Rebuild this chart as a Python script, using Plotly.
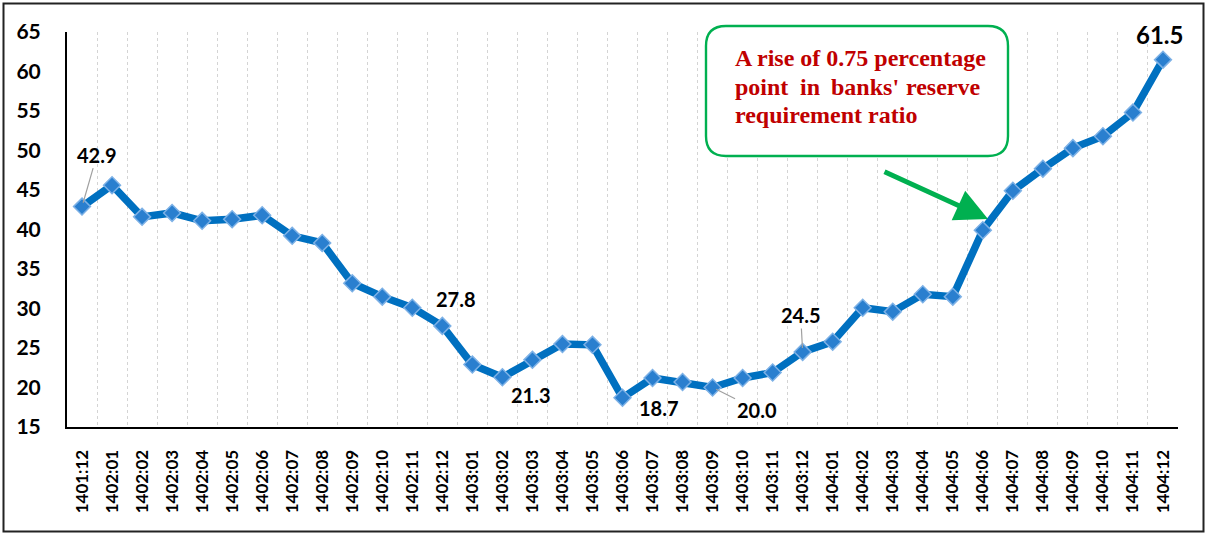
import plotly.graph_objects as go

categories = ["1401:12",
              "1402:01", "1402:02", "1402:03", "1402:04", "1402:05", "1402:06",
              "1402:07", "1402:08", "1402:09", "1402:10", "1402:11", "1402:12",
              "1403:01", "1403:02", "1403:03", "1403:04", "1403:05", "1403:06",
              "1403:07", "1403:08", "1403:09", "1403:10", "1403:11", "1403:12",
              "1404:01", "1404:02", "1404:03", "1404:04", "1404:05", "1404:06",
              "1404:07", "1404:08", "1404:09", "1404:10", "1404:11", "1404:12"]
values = [42.9, 45.6, 41.6, 42.1, 41.1, 41.3, 41.8, 39.2, 38.3, 33.2, 31.5, 30.1, 27.8,
          22.9, 21.3, 23.5, 25.5, 25.4, 18.7, 21.2, 20.7, 20.0, 21.2, 21.9, 24.5,
          25.8, 30.1, 29.6, 31.8, 31.5, 39.9, 44.9, 47.7, 50.3, 51.8, 54.8, 61.5]
y_ticks = [15, 20, 25, 30, 35, 40, 45, 50, 55, 60, 65]

# labelled points: (index, dx, dy, leader line, font size)
labels = [(0, 15, -52, True, 20), (12, 14, -27, False, 20), (14, 29, 18, False, 20),
          (18, 36, 10, False, 20), (21, 44, 22, True, 20), (24, -2, -37, True, 20),
          (36, -3, -25, False, 24)]

note_lines = ["A rise of 0.75 percentage", "point", "in", "banks'", "reserve",
              "requirement ratio"]

W, H = 1207, 534
L, R, T, B = 67, 1178, 32, 427


def px(x):
    return (x - L) / (R - L)


def py(y):
    return (B - y) / (B - T)


fig = go.Figure()
fig.add_trace(go.Scatter(
    x=categories, y=values, mode="lines+markers",
    line=dict(color="#0070C0", width=7.5),
    marker=dict(symbol="diamond", size=13, color="#2A7FCF",
                line=dict(color="#7DB1E6", width=1.5)),
    cliponaxis=False, hoverinfo="x+y", showlegend=False))

annotations = []
for idx, dx, dy, leader, fs in labels:
    txt = f"{values[idx]:.1f}"
    font = dict(family="Lato, Open Sans, sans-serif", size=fs, color="black", weight="bold")
    if leader:
        annotations.append(dict(x=categories[idx], y=values[idx], xref="x", yref="y",
                                text=txt, showarrow=True, ax=dx, ay=dy, arrowhead=0,
                                arrowwidth=1.2, arrowcolor="#A0A0A0", standoff=4,
                                font=font))
    else:
        annotations.append(dict(x=categories[idx], y=values[idx], xref="x", yref="y",
                                text=txt, showarrow=False, xshift=dx, yshift=-dy,
                                font=font))

nfont = dict(family="Liberation Serif, Times New Roman, serif", size=24,
             color="#C00000", weight="bold")
# note text lines (line 2 justified word by word)
annotations.append(dict(x=px(733), y=py(58), xref="paper", yref="paper", text=note_lines[0],
                        showarrow=False, xanchor="left", yanchor="middle", font=nfont))
for word, xx, anchor in [(note_lines[1], 733, "left"), (note_lines[2], 798, "left"),
                         (note_lines[3], 829, "left"), (note_lines[4], 983, "right")]:
    annotations.append(dict(x=px(xx), y=py(87), xref="paper", yref="paper", text=word,
                            showarrow=False, xanchor=anchor, yanchor="middle", font=nfont))
annotations.append(dict(x=px(733), y=py(115), xref="paper", yref="paper", text=note_lines[5],
                        showarrow=False, xanchor="left", yanchor="middle", font=nfont))
# green arrow
annotations.append(dict(x=px(988), y=py(219), xref="paper", yref="paper", text="",
                        showarrow=True, ax=883 - 988, ay=171 - 219, arrowhead=2,
                        arrowsize=1.3, arrowwidth=5, arrowcolor="#00B050"))

# rounded note box
x0, x1, y0, y1 = 706, 1008, 26, 156
r = 20
def P(x, y):
    return f"{px(x):.5f},{py(y):.5f}"
box_path = (f"M {P(x0 + r, y0)} L {P(x1 - r, y0)} Q {P(x1, y0)} {P(x1, y0 + r)} "
            f"L {P(x1, y1 - r)} Q {P(x1, y1)} {P(x1 - r, y1)} "
            f"L {P(x0 + r, y1)} Q {P(x0, y1)} {P(x0, y1 - r)} "
            f"L {P(x0, y0 + r)} Q {P(x0, y0)} {P(x0 + r, y0)} Z")

shapes = [
    dict(type="path", path=box_path, xref="paper", yref="paper",
         line=dict(color="#00B050", width=2.4), fillcolor="white", layer="above"),
    dict(type="rect", xref="paper", yref="paper", x0=px(3.5), x1=px(1203.5),
         y0=py(531.5), y1=py(3.5), line=dict(color="#222222", width=2), layer="below"),
]

fig.update_layout(
    width=W, height=H,
    margin=dict(l=L, r=W - R, t=T, b=H - B, autoexpand=False),
    paper_bgcolor="white", plot_bgcolor="white",
    showlegend=False,
    annotations=annotations,
    shapes=shapes,
    xaxis=dict(type="category", range=[-0.5, len(categories) - 0.5],
               tickmode="array", tickvals=categories, ticktext=categories,
               tickangle=-90, tickson="boundaries", ticks="",
               showgrid=True, gridcolor="#D4D4D4", griddash="dot", gridwidth=1.2,
               showline=True, linecolor="black", linewidth=2,
               ticklabelstandoff=14, automargin=False,
               tickfont=dict(family="Lato, Open Sans, sans-serif", size=17,
                             color="black", weight="bold")),
    yaxis=dict(range=[15, 65], tickmode="array", tickvals=y_ticks,
               showgrid=False, zeroline=False, ticks="",
               showline=True, linecolor="black", linewidth=2,
               ticklabelstandoff=20, automargin=False,
               tickfont=dict(family="Lato, Open Sans, sans-serif", size=21,
                             color="black", weight="bold")),
)

fig.write_html("out.html", config={"displayModeBar": False},
               post_script="document.body.style.margin='0';")
